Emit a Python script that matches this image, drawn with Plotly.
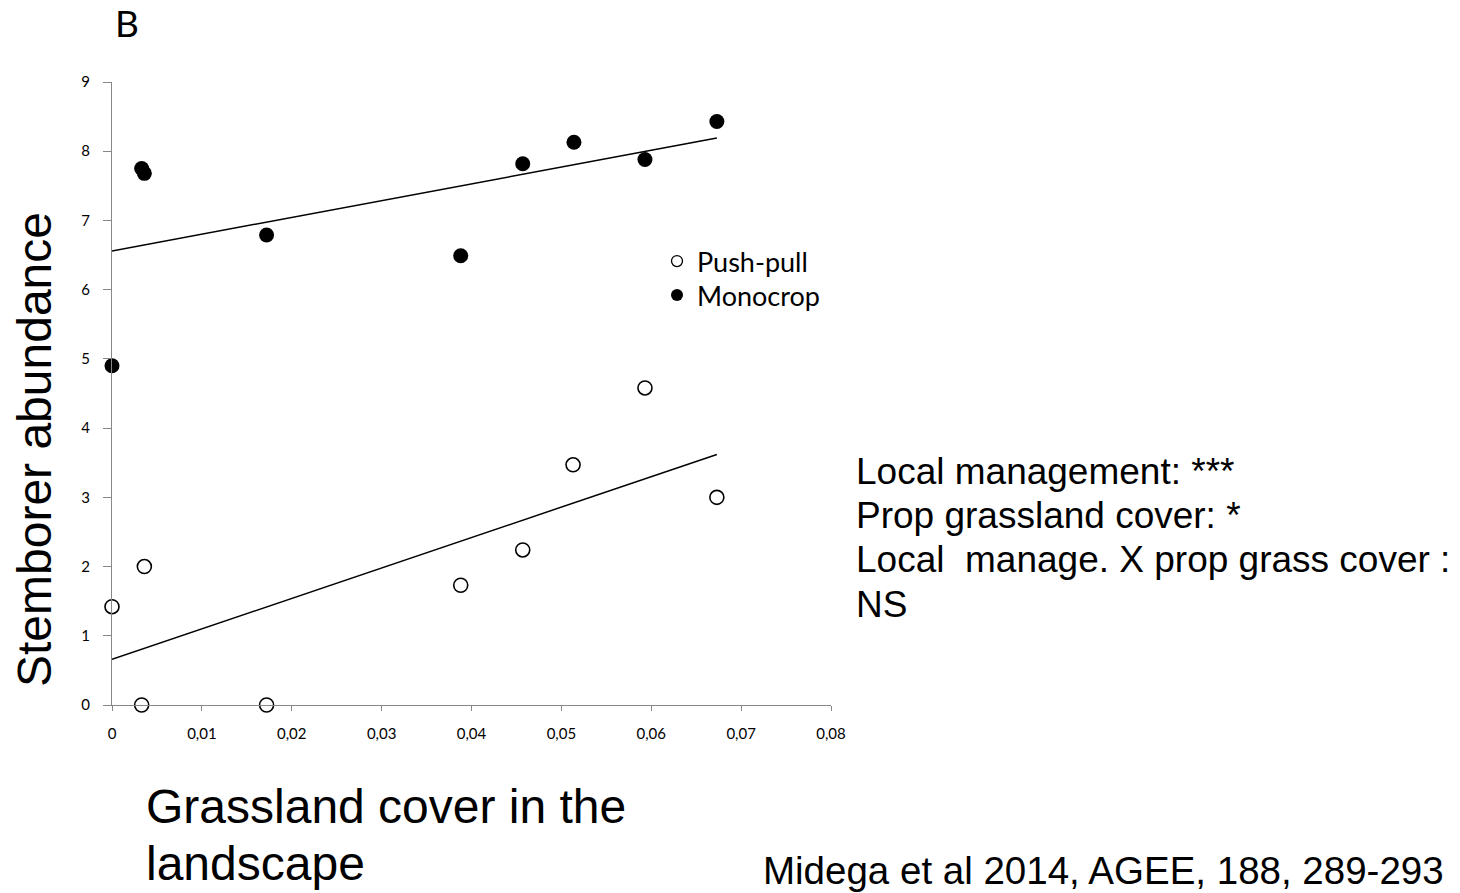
import plotly.graph_objects as go

# Stemborer abundance vs. proportion of grassland cover in the landscape
pushpull_x = [0.0, 0.0036, 0.0033, 0.0172, 0.0388, 0.0457, 0.0513, 0.0593, 0.0673]
pushpull_y = [1.42, 2.00, 0.0, 0.0, 1.73, 2.24, 3.47, 4.58, 3.00]

monocrop_x = [0.0, 0.0033, 0.0036, 0.0172, 0.0388, 0.0457, 0.0514, 0.0593, 0.0673]
monocrop_y = [4.90, 7.75, 7.68, 6.79, 6.49, 7.82, 8.13, 7.88, 8.43]

# fitted regression lines (end points)
trend_x = [0.0, 0.0673]
pushpull_trend = [0.66, 3.62]
monocrop_trend = [6.56, 8.19]

stats_lines = [
    "Local management: ***",
    "Prop grassland cover: *",
    "Local  manage. X prop grass cover :",
    "NS",
]

W, H = 1460, 893
L, R, T, B = 112, 629, 82, 188
PW, PH = W - L - R, H - T - B


def px(x):
    return (x - L) / PW


def py(y):
    return (H - B - y) / PH


AX = "#878787"
SANS = "Liberation Sans, Arial, sans-serif"
CAL = "Lato, Carlito, Calibri, sans-serif"

fig = go.Figure()

fig.add_trace(go.Scatter(x=trend_x, y=monocrop_trend, mode="lines",
                         line=dict(color="black", width=1.5), showlegend=False,
                         hoverinfo="skip"))
fig.add_trace(go.Scatter(x=trend_x, y=pushpull_trend, mode="lines",
                         line=dict(color="black", width=1.5), showlegend=False,
                         hoverinfo="skip"))

fig.add_trace(go.Scatter(x=pushpull_x, y=pushpull_y, mode="markers",
                         marker=dict(symbol="circle", size=14, color="white",
                                     line=dict(color="black", width=1.6)),
                         showlegend=False, cliponaxis=False))
fig.add_trace(go.Scatter(x=monocrop_x, y=monocrop_y, mode="markers",
                         marker=dict(symbol="circle", size=15, color="black",
                                     line=dict(color="black", width=0)),
                         showlegend=False, cliponaxis=False))

# legend entries (one legend box per row for tight spacing)
fig.add_trace(go.Scatter(x=[None], y=[None], mode="markers", name="Push-pull",
                         legend="legend",
                         marker=dict(symbol="circle", size=11, color="white",
                                     line=dict(color="black", width=1.3))))
fig.add_trace(go.Scatter(x=[None], y=[None], mode="markers", name="Monocrop",
                         legend="legend2",
                         marker=dict(symbol="circle", size=12, color="black")))

annotations = [
    dict(text="B", x=px(113), y=py(23), xanchor="left", yanchor="middle",
         font=dict(family=CAL, size=37, color="black")),
    dict(text="Stemborer abundance", x=px(34), y=py(450), textangle=-90,
         xanchor="center", yanchor="middle",
         font=dict(family=SANS, size=48, color="black")),
    dict(text="Grassland cover in the", x=px(144), y=py(806), xanchor="left",
         yanchor="middle", font=dict(family=SANS, size=48, color="black")),
    dict(text="landscape", x=px(144), y=py(863), xanchor="left",
         yanchor="middle", font=dict(family=SANS, size=48, color="black")),
    dict(text="Midega et al 2014, AGEE, 188, 289-293", x=px(761), y=py(870),
         xanchor="left", yanchor="middle",
         font=dict(family=SANS, size=38.5, color="black")),
]
for i, line in enumerate(stats_lines):
    annotations.append(dict(text=line, x=px(854), y=py(471 + 44.4 * i),
                            xanchor="left", yanchor="middle",
                            font=dict(family=SANS, size=37, color="black")))
for a in annotations:
    a.update(xref="paper", yref="paper", showarrow=False)

legend_style = dict(xanchor="left", yanchor="top",
                    font=dict(family=CAL, size=27, color="black"),
                    bgcolor="rgba(0,0,0,0)", borderwidth=0, itemwidth=30)

fig.update_layout(
    width=W, height=H,
    margin=dict(l=L, r=R, t=T, b=B, pad=0),
    paper_bgcolor="white", plot_bgcolor="white",
    separators=", ",
    showlegend=True,
    legend=dict(x=px(657), y=py(237), **legend_style),
    legend2=dict(x=px(657), y=py(271), **legend_style),
    xaxis=dict(range=[0, 0.08], dtick=0.01, tick0=0, showline=True,
               linecolor=AX, linewidth=1.3, ticks="outside", ticklen=5,
               tickcolor=AX, tickwidth=1.3, showgrid=False, zeroline=False,
               ticklabelstandoff=10,
               tickfont=dict(family=CAL, size=15, color="black")),
    yaxis=dict(range=[0, 9], dtick=1, tick0=0, showline=True,
               linecolor=AX, linewidth=1.3, ticks="outside", ticklen=8,
               tickcolor=AX, tickwidth=1.3, showgrid=False, zeroline=False,
               ticklabelstandoff=10,
               tickfont=dict(family=CAL, size=15, color="black")),
    annotations=annotations,
)

fig.write_html("out.html")
